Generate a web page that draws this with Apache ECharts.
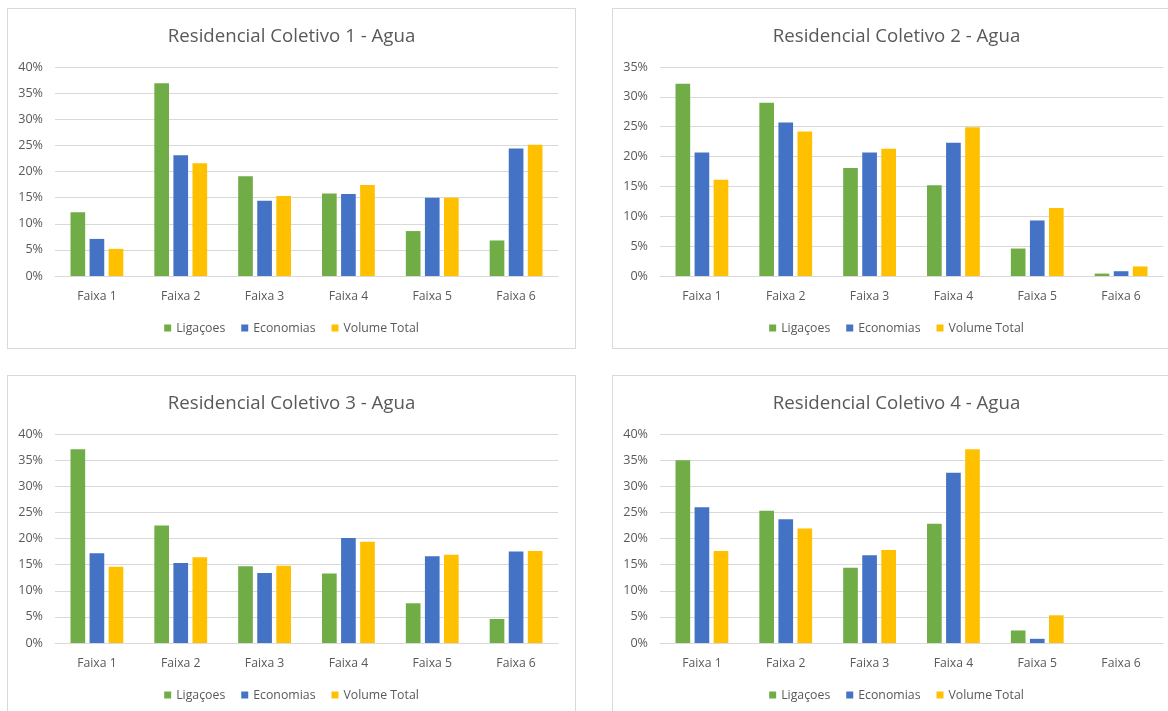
<!DOCTYPE html>
<html>
<head>
<meta charset="utf-8">
<script src="https://cdn.jsdelivr.net/npm/echarts@6/dist/echarts.min.js"></script>
<style>
  html, body { margin: 0; padding: 0; background: #ffffff; width: 1168px; height: 711px; overflow: hidden; }
  .panel { position: absolute; box-sizing: border-box; width: 569px; height: 341px; border: 1px solid #d9d9d9; background: #ffffff; }
  .panel > div { width: 567px; height: 339px; }
</style>
</head>
<body>
<div class="panel" style="left:7px;top:8px;"><div id="rc1"></div></div>
<div class="panel" style="left:612px;top:8px;"><div id="rc2"></div></div>
<div class="panel" style="left:7px;top:375px;"><div id="rc3"></div></div>
<div class="panel" style="left:612px;top:375px;"><div id="rc4"></div></div>
<script>
// Shared category labels and legend names
const categories = ['Faixa 1', 'Faixa 2', 'Faixa 3', 'Faixa 4', 'Faixa 5', 'Faixa 6'];
const seriesNames = ['Ligaçoes', 'Economias', 'Volume Total'];
const seriesColors = ['#70AD47', '#4472C4', '#FFC000'];

// Residencial Coletivo 1 (percent)
const rc1Ligacoes  = [12.2, 36.9, 19.1, 15.8, 8.6, 6.8];
const rc1Economias = [7.1, 23.1, 14.4, 15.7, 15.0, 24.4];
const rc1Volume    = [5.2, 21.6, 15.3, 17.4, 15.0, 25.1];

// Residencial Coletivo 2 (percent)
const rc2Ligacoes  = [32.2, 29.0, 18.1, 15.2, 4.6, 0.4];
const rc2Economias = [20.7, 25.7, 20.7, 22.3, 9.3, 0.8];
const rc2Volume    = [16.1, 24.2, 21.3, 24.9, 11.4, 1.6];

// Residencial Coletivo 3 (percent)
const rc3Ligacoes  = [37.1, 22.5, 14.7, 13.3, 7.6, 4.6];
const rc3Economias = [17.2, 15.3, 13.4, 20.1, 16.6, 17.5];
const rc3Volume    = [14.6, 16.4, 14.8, 19.4, 16.9, 17.6];

// Residencial Coletivo 4 (percent)
const rc4Ligacoes  = [35.0, 25.3, 14.4, 22.8, 2.4, 0];
const rc4Economias = [26.0, 23.7, 16.8, 32.6, 0.8, 0];
const rc4Volume    = [17.6, 21.9, 17.8, 37.1, 5.3, 0];

const FONT = '"Open Sans", "Segoe UI", sans-serif';
const TEXT = '#595959';
const GRID = '#d9d9d9';

function drawPanel(id, title, yMax, values) {
  const chart = echarts.init(document.getElementById(id), null, { renderer: 'canvas' });
  chart.setOption({
    animation: false,
    title: {
      text: title,
      left: 'center',
      top: 13,
      textStyle: { fontFamily: FONT, fontSize: 18.67, fontWeight: 'normal', color: TEXT }
    },
    legend: {
      data: seriesNames,
      left: 'center',
      top: 308,
      icon: 'rect',
      itemWidth: 7,
      itemHeight: 7,
      itemGap: 16,
      textStyle: { fontFamily: FONT, fontSize: 12.3, color: TEXT }
    },
    grid: { left: 47, right: 17, top: 58, bottom: 72, containLabel: false },
    xAxis: {
      type: 'category',
      data: categories,
      axisLine: { show: true, lineStyle: { color: GRID, width: 1 } },
      axisTick: { show: false },
      axisLabel: { margin: 15, fontFamily: FONT, fontSize: 12.2, color: TEXT }
    },
    yAxis: {
      type: 'value',
      min: 0,
      max: yMax,
      interval: 5,
      axisLine: { show: false },
      axisTick: { show: false },
      splitLine: { lineStyle: { color: GRID, width: 1 } },
      axisLabel: { margin: 12, fontFamily: FONT, fontSize: 12.6, color: TEXT, formatter: v => v + '%' }
    },
    series: values.map((arr, i) => ({
      name: seriesNames[i],
      type: 'bar',
      data: arr,
      barGap: '30%',
      barCategoryGap: '37%',
      itemStyle: { color: seriesColors[i] }
    }))
  });
}

drawPanel('rc1', 'Residencial Coletivo 1 - Agua', 40, [rc1Ligacoes, rc1Economias, rc1Volume]);
drawPanel('rc2', 'Residencial Coletivo 2 - Agua', 35, [rc2Ligacoes, rc2Economias, rc2Volume]);
drawPanel('rc3', 'Residencial Coletivo 3 - Agua', 40, [rc3Ligacoes, rc3Economias, rc3Volume]);
drawPanel('rc4', 'Residencial Coletivo 4 - Agua', 40, [rc4Ligacoes, rc4Economias, rc4Volume]);
</script>
</body>
</html>
